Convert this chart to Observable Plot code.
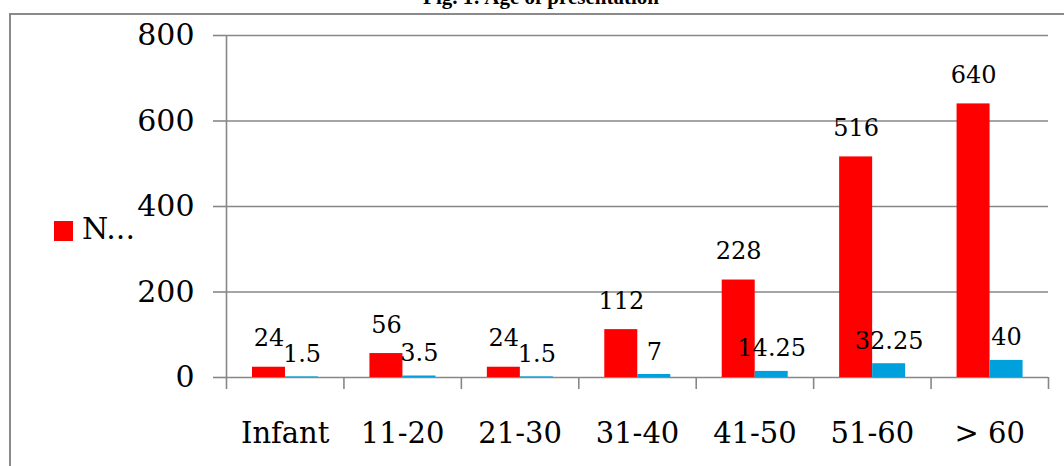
<!DOCTYPE html>
<html>
<head>
<meta charset="utf-8">
<script src="https://cdn.jsdelivr.net/npm/d3@7"></script>
<script src="https://cdn.jsdelivr.net/npm/@observablehq/plot@0.6"></script>
<style>
  html, body { margin: 0; padding: 0; background: #fff; }
  #wrap { position: relative; width: 1064px; height: 466px; overflow: hidden; background: #fff; }
  #box { position: absolute; left: 9px; top: 13px; right: -6px; bottom: -6px; border: 2px solid #8a8a8a; box-sizing: border-box; }
  #title { position: absolute; left: 0; width: 1082px; top: -13px; text-align: center; font: bold 21px "Liberation Serif", serif; line-height: 21px; color: #000; }
  #chart { position: absolute; left: 0; top: 0; }
  #legsw { position: absolute; left: 54px; top: 221px; width: 19px; height: 20px; }
  #legtx { position: absolute; left: 82px; top: 214px; font: 30px "DejaVu Serif", serif; line-height: 30px; color: #000; }
</style>
</head>
<body>
<div id="wrap">
  <div id="title">Fig. 1: Age of presentation</div>
  <div id="box"></div>
  <div id="chart"></div>
  <div id="legsw"></div>
  <div id="legtx"></div>
</div>
<script>
const categories = ["Infant", "11-20", "21-30", "31-40", "41-50", "51-60", "> 60"];
const countValues = [24, 56, 24, 112, 228, 516, 640];
const percentValues = [1.5, 3.5, 1.5, 7, 14.25, 32.25, 40];
const yTicks = [0, 200, 400, 600, 800];
const seriesNames = ["N...", "%"];
const seriesColors = ["#ff0000", "#00a0dc"];

const rows = categories.map((c, i) => ({cat: c, n: countValues[i], p: percentValues[i]}));

const W = 1064, H = 466, ML = 226, MR = 16, MT = 35, MB = 89;
const step = (W - ML - MR) / categories.length;
const barW = 33, gap0 = 26;
const grid = "#878787";
const font = "DejaVu Serif";

const plot = Plot.plot({
  width: W, height: H,
  marginLeft: ML, marginRight: MR, marginTop: MT, marginBottom: MB,
  style: {background: "transparent", color: "#000", overflow: "visible"},
  x: {domain: categories, padding: 0, round: false, label: null},
  y: {domain: [0, 800], label: null},
  marks: [
    Plot.gridY(yTicks, {stroke: grid, strokeOpacity: 1, strokeWidth: 1.6}),
    Plot.ruleX([categories[0]], {dx: -step / 2, y1: 0, y2: 800, stroke: grid, strokeWidth: 1.6}),
    Plot.axisY(yTicks, {tickSize: 13, tickPadding: 19, stroke: grid, strokeWidth: 1.6, fontSize: 30, fontFamily: font, fill: "#000", label: null}),
    Plot.axisX(categories, {tickSize: 12, dx: -step / 2, tickFormat: () => "", stroke: grid, strokeWidth: 1.6, label: null}),
    Plot.axisX([categories[categories.length - 1]], {tickSize: 12, dx: step / 2, tickFormat: () => "", stroke: grid, strokeWidth: 1.6, label: null}),
    Plot.axisX(categories, {tickSize: 0, tickPadding: 45, fontSize: 29, fontFamily: font, fill: "#000", label: null}),
    Plot.barY(rows, {x: "cat", y: "n", fill: seriesColors[0], insetLeft: gap0, insetRight: step - gap0 - barW}),
    Plot.barY(rows, {x: "cat", y: "p", fill: seriesColors[1], insetLeft: gap0 + barW, insetRight: step - gap0 - 2 * barW}),
    Plot.text(rows, {x: "cat", y: "n", text: d => String(d.n), dx: gap0 + barW / 2 - step / 2, lineAnchor: "bottom", dy: -21, fontSize: 24, fontFamily: font, fill: "#000"}),
    Plot.text(rows, {x: "cat", y: "p", text: d => String(d.p), dx: gap0 + 1.5 * barW - step / 2, lineAnchor: "bottom", dy: -15, fontSize: 24, fontFamily: font, fill: "#000"})
  ]
});
document.getElementById("chart").appendChild(plot);
document.getElementById("legsw").style.background = seriesColors[0];
document.getElementById("legtx").textContent = seriesNames[0];
</script>
</body>
</html>
